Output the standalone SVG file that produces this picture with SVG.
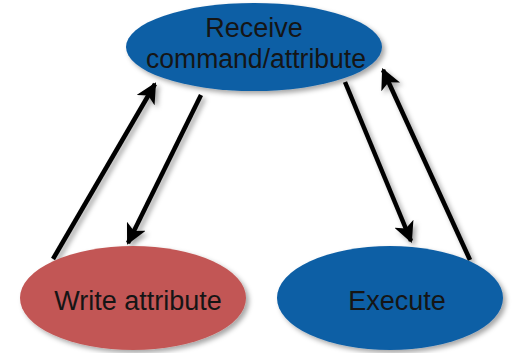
<svg xmlns="http://www.w3.org/2000/svg" width="514" height="353" viewBox="0 0 514 353">
  <defs>
    <filter id="shadow" x="-20%" y="-20%" width="150%" height="150%">
      <feDropShadow dx="3" dy="3" stdDeviation="2.5" flood-color="#000" flood-opacity="0.35"/>
    </filter>
    <marker id="head" viewBox="0 0 10 10" refX="9" refY="5" markerWidth="4.6" markerHeight="4.6" orient="auto" markerUnits="strokeWidth">
      <path d="M0,0 L10,5 L0,10 L2.5,5 Z" fill="#000"/>
    </marker>
  </defs>
  <style>
    .blue { fill: #0E5FA5; }
    .red { fill: #C25755; }
    .label { font-family: "Liberation Sans", Arial, sans-serif; font-size: 27px; fill: #151515; text-anchor: middle; }
    .conn { stroke: #000; stroke-width: 4.5; fill: none; marker-end: url(#head); }
  </style>
  <rect width="514" height="353" fill="#fff"/>

  <g id="connectors" filter="url(#shadow)">
    <line class="conn" x1="53" y1="259" x2="155" y2="84"/>
    <line class="conn" x1="201" y1="95" x2="128" y2="243"/>
    <line class="conn" x1="345" y1="82" x2="411" y2="241"/>
    <line class="conn" x1="470" y1="260" x2="383" y2="70"/>
  </g>

  <g id="receive">
    <ellipse class="blue" cx="254" cy="47" rx="128" ry="44" filter="url(#shadow)"/>
    <text class="label" x="254" y="37">Receive</text>
    <text class="label" x="256" y="68" textLength="220" lengthAdjust="spacingAndGlyphs">command/attribute</text>
  </g>

  <g id="write-attribute">
    <ellipse class="red" cx="133" cy="298" rx="113" ry="52" filter="url(#shadow)"/>
    <text class="label" x="138" y="310">Write attribute</text>
  </g>

  <g id="execute">
    <ellipse class="blue" cx="390" cy="298" rx="113" ry="52" filter="url(#shadow)"/>
    <text class="label" x="397" y="310">Execute</text>
  </g>
</svg>
